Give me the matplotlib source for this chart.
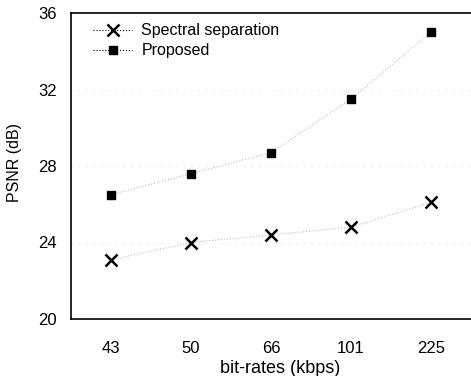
import numpy as np
import matplotlib.pyplot as plt
from matplotlib.lines import Line2D

plt.rcParams['font.family'] = ['Liberation Sans', 'DejaVu Sans']

rates = ["43", "50", "66", "101", "225"]
spectral = [23.1, 24.0, 24.4, 24.8, 26.1]
proposed = [26.5, 27.6, 28.7, 31.5, 35.0]

fig = plt.figure(figsize=(4.71, 3.76), dpi=100)
ax = fig.add_axes([71/471, 1 - 319/376, 400/471, 306/376])
x = np.arange(len(rates))

ax.plot(x, spectral, color='#bbbbbb', ls=':', lw=0.8)
ax.plot(x, proposed, color='#bbbbbb', ls=':', lw=0.8)
ax.plot(x, spectral, 'x', color='black', ms=9, mew=1.8, ls='none')
ax.plot(x, proposed, 's', color='black', ms=6, ls='none')

h1 = Line2D([], [], color='black', marker='x', ms=9, mew=1.8, ls=':', lw=0.8)
h2 = Line2D([], [], color='black', marker='s', ms=6, ls=':', lw=0.8)
leg = ax.legend([h1, h2], ["Spectral separation", "Proposed"], loc='upper left',
                frameon=False, fontsize=11.5, handlelength=2.4, borderaxespad=0.0,
                bbox_to_anchor=(0.04, 0.987),
                labelspacing=0.3, handletextpad=0.6)

ax.set_xlim(-0.5, 4.5)
ax.set_ylim(20, 36)
ax.set_yticks([20, 24, 28, 32, 36])
ax.set_xticks(x)
ax.set_xticklabels(rates)
ax.tick_params(length=0, labelsize=12, pad=16)
ax.tick_params(axis='y', pad=10)
ax.grid(axis='y', color='#cccccc', ls=(0, (1, 8)), lw=0.6)
ax.spines['right'].set_visible(False)
for s in ['left', 'bottom', 'top']:
    ax.spines[s].set_linewidth(1.2)
ax.set_xlabel("bit-rates (kbps)", fontsize=13)
ax.xaxis.set_label_coords(0.523, -0.135)
ax.set_ylabel("PSNR (dB)", fontsize=11.5)
ax.yaxis.set_label_coords(-0.122, 0.513)

fig.savefig("out.png", dpi=100)
